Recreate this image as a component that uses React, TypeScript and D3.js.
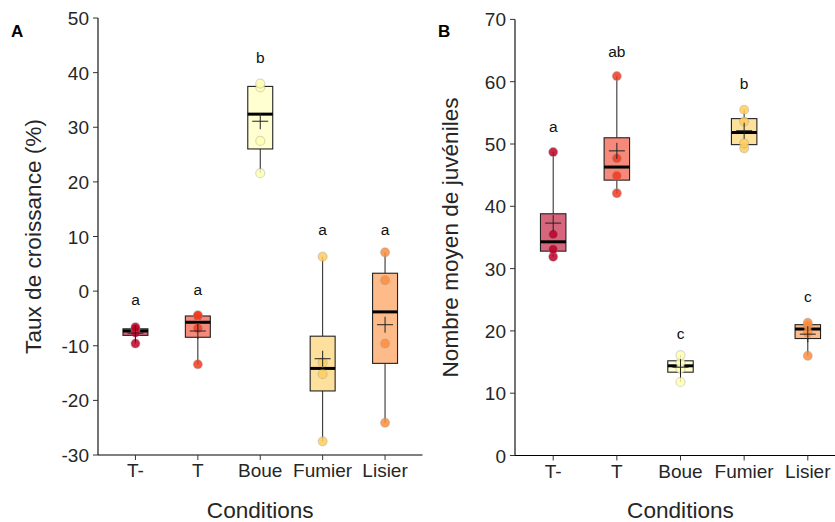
import React from 'react';
import * as d3 from 'd3';

const categories = ['T-', 'T', 'Boue', 'Fumier', 'Lisier'];
const colors = ['#BD0026', '#F03B20', '#FFFFB2', '#FECC5C', '#FD8D3C'];

const growthPoints = [
  [-9.6, -7.6, -7.0, -6.6],
  [-13.4, -6.8, -4.6, -4.4],
  [21.6, 27.5, 37.3, 38.0],
  [-27.5, -15.2, -13.1, 6.3],
  [-24.1, -9.6, 2.0, 7.1],
];
const growthLetters = ['a', 'a', 'b', 'a', 'a'];
const growthLetterY = [-1.7, 0.2, 42.7, 11.2, 11.2];
const growthTicks = [-30, -20, -10, 0, 10, 20, 30, 40, 50];

const juvPoints = [
  [31.9, 33.1, 35.5, 48.7],
  [42.1, 44.9, 47.7, 60.9],
  [11.8, 13.9, 14.9, 16.1],
  [49.3, 50.1, 53.6, 55.5],
  [16.0, 19.7, 20.9, 21.3],
];
const juvLetters = ['a', 'ab', 'c', 'b', 'c'];
const juvLetterY = [52.7, 64.8, 19.5, 59.7, 25.5];
const juvTicks = [0, 10, 20, 30, 40, 50, 60, 70];

const FONT = "'Liberation Sans', Arial, sans-serif";
const TXT = '#262626';

type PanelProps = {
  tag: string;
  tagX: number;
  axisX: number;
  rightX: number;
  top: number;
  bottom: number;
  domain: [number, number];
  ticks: number[];
  points: number[][];
  letters: string[];
  letterY: number[];
  yTitle: string;
  yTitleX: number;
};

function Panel(p: PanelProps) {
  const x = d3.scalePoint<string>().domain(categories).range([p.axisX, p.rightX]).padding(0.6);
  const y = d3.scaleLinear().domain(p.domain).range([p.bottom, p.top]);
  const bw = x.step() * 0.4;
  const midX = (p.axisX + p.rightX) / 2;
  return (
    <g>
      <text x={p.tagX} y={37} fontFamily={FONT} fontWeight="bold" fontSize={17} fill="#000">{p.tag}</text>
      {/* axes */}
      <line x1={p.axisX} x2={p.axisX} y1={y(p.domain[1])} y2={p.bottom} stroke="#000" strokeWidth={1.1} />
      <line x1={p.axisX} x2={p.rightX} y1={p.bottom} y2={p.bottom} stroke="#000" strokeWidth={1.1} />
      {p.ticks.map((t) => (
        <g key={t}>
          <line x1={p.axisX - 5} x2={p.axisX} y1={y(t)} y2={y(t)} stroke="#333" strokeWidth={1} />
          <text x={p.axisX - 9} y={y(t) + 7} textAnchor="end" fontFamily={FONT} fontSize={19} fill={TXT}>{t}</text>
        </g>
      ))}
      {categories.map((c) => (
        <g key={c}>
          <line x1={x(c)!} x2={x(c)!} y1={p.bottom} y2={p.bottom + 5} stroke="#333" strokeWidth={1} />
          <text x={x(c)!} y={p.bottom + 22} textAnchor="middle" fontFamily={FONT} fontSize={19} fill={TXT}>{c}</text>
        </g>
      ))}
      <text x={midX} y={518} textAnchor="middle" fontFamily={FONT} fontSize={22.6} fill={TXT}>Conditions</text>
      <text
        transform={`translate(${p.yTitleX},${(p.top + p.bottom) / 2}) rotate(-90)`}
        textAnchor="middle"
        fontFamily={FONT}
        fontSize={22.6}
        fill={TXT}
      >
        {p.yTitle}
      </text>
      {/* boxes */}
      {categories.map((c, i) => {
        const vals = [...p.points[i]].sort((a, b) => a - b);
        const q1 = d3.quantile(vals, 0.25)!;
        const med = d3.quantile(vals, 0.5)!;
        const q3 = d3.quantile(vals, 0.75)!;
        const lo = d3.min(vals)!;
        const hi = d3.max(vals)!;
        const mean = d3.mean(vals)!;
        const cx = x(c)!;
        return (
          <g key={c}>
            <line x1={cx} x2={cx} y1={y(hi)} y2={y(q3)} stroke="#222" strokeWidth={1} />
            <line x1={cx} x2={cx} y1={y(q1)} y2={y(lo)} stroke="#222" strokeWidth={1} />
            <rect
              x={cx - bw / 2}
              y={y(q3)}
              width={bw}
              height={y(q1) - y(q3)}
              fill={colors[i]}
              fillOpacity={0.6}
              stroke="#222"
              strokeWidth={1.1}
            />
            <line x1={cx - bw / 2} x2={cx + bw / 2} y1={y(med)} y2={y(med)} stroke="#000" strokeWidth={3} />
            {vals.map((v, k) => (
              <circle key={k} cx={cx} cy={y(v)} r={4.5} fill={colors[i]} fillOpacity={0.85} stroke="#999" strokeOpacity={0.35} strokeWidth={1.2} />
            ))}
            <line x1={cx - 8} x2={cx + 8} y1={y(mean)} y2={y(mean)} stroke="#222" strokeWidth={1} />
            <line x1={cx} x2={cx} y1={y(mean) - 8} y2={y(mean) + 8} stroke="#222" strokeWidth={1} />
            <text x={cx} y={y(p.letterY[i]) + 5} textAnchor="middle" fontFamily={FONT} fontSize={15.5} fill="#111">{p.letters[i]}</text>
          </g>
        );
      })}
    </g>
  );
}

export default function App() {
  return (
    <div style={{ position: 'absolute', left: 0, top: 0 }}>
      <svg width={835} height={522} viewBox="0 0 835 522" style={{ display: 'block', background: '#fff' }}>
        <rect width={835} height={522} fill="#fff" />
        <Panel
          tag="A"
          tagX={11}
          axisX={98}
          rightX={422.5}
          top={18}
          bottom={455}
          domain={[-30, 50]}
          ticks={growthTicks}
          points={growthPoints}
          letters={growthLetters}
          letterY={growthLetterY}
          yTitle="Taux de croissance (%)"
          yTitleX={41}
        />
        <Panel
          tag="B"
          tagX={438}
          axisX={515}
          rightX={846}
          top={19.4}
          bottom={455.5}
          domain={[0, 70]}
          ticks={juvTicks}
          points={juvPoints}
          letters={juvLetters}
          letterY={juvLetterY}
          yTitle="Nombre moyen de juvéniles"
          yTitleX={458}
        />
      </svg>
    </div>
  );
}
